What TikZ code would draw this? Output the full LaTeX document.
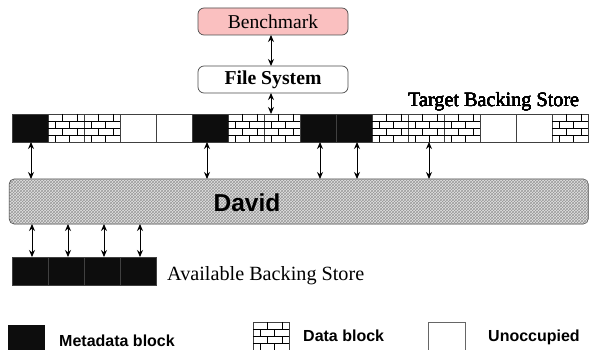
\documentclass[tikz,border=0pt]{standalone}
\usepackage{fontspec}
\setmainfont{Liberation Serif}
\setsansfont{Liberation Sans}
\usetikzlibrary{patterns,arrows.meta}
\definecolor{bmpink}{RGB}{250,192,192}
\newcommand\mybricks[1]{%
  \begin{scope}[shift={(#1.north west)}]
    \draw[brk] (0,7)--(36,7) (0,14)--(36,14) (0,21)--(36,21)
      (14.5,0)--(14.5,7) (29,0)--(29,7)
      (7,7)--(7,14) (21.5,7)--(21.5,14)
      (14.5,14)--(14.5,21) (29,14)--(29,21)
      (7,21)--(7,28) (21.5,21)--(21.5,28);
  \end{scope}}
\begin{document}
\begin{tikzpicture}[x=1pt,y=-1pt,
  blk/.style={draw=black!75, line width=0.7pt, minimum width=36pt, minimum height=28pt,
    inner sep=0pt, outer sep=0pt, anchor=north west},
  blkM/.style={blk, fill=black!95},
  blkD/.style={blk, fill=white},
  blkU/.style={blk, fill=white},
  brk/.style={line width=0.6pt, black},
  topbox/.style={draw=black!70, line width=0.7pt, rounded corners=6pt, minimum width=150pt,
    minimum height=27pt, inner sep=0pt, outer sep=0pt, font=\fontsize{19.6}{21}\selectfont},
  arr/.style={{Stealth[length=7pt,width=6pt]}-{Stealth[length=7pt,width=6pt]}, line width=1pt},
  legtxt/.style={font=\sffamily\bfseries\fontsize{16}{18}\selectfont, anchor=base west, inner sep=0pt},
  sertxt/.style={font=\fontsize{20.2}{22}\selectfont, inner sep=0pt}
]
\useasboundingbox (0,0) rectangle (589,350);

% top boxes
\node[topbox, fill=bmpink] (bm) at (273,21.5) {Benchmark};
\node[topbox, fill=white, font=\fontsize{19.7}{21}\selectfont\bfseries] (fs) at (273,79.5) {File System};

% target backing store strip
\foreach \t [count=\i] in {M,D,D,U,U,M,D,D,M,M,D,D,D,U,U,D}
  \node[blk\t] (t\i) at ({12+36*(\i-1)},114) {};
\foreach \i in {2,3,7,8,11,12,13,16} \mybricks{t\i}
\node[sertxt, anchor=base west] (tlbl) at (408,106.8) {Target Backing Store};

% David layer
\node[draw=black!75, line width=0.7pt, rounded corners=5pt, fill=gray!22,
  postaction={pattern=crosshatch, pattern color=gray!80},
  minimum width=579pt, minimum height=45pt, inner sep=0pt, outer sep=0pt,
  anchor=north west] (david) at (9.2,179) {};
\node[font=\sffamily\bfseries\fontsize{24.5}{26}\selectfont, anchor=base, inner sep=0pt] (dlbl) at (247,211) {David};

% available backing store
\foreach \i in {1,...,4}
  \node[blkM] (a\i) at ({12+36*(\i-1)},257) {};
\node[sertxt, anchor=base west] (albl) at (167,280) {Available Backing Store};

% arrows
\draw[arr] ([xshift=-2pt]bm.south) -- ([xshift=-2pt]fs.north);
\draw[arr] ([xshift=-2pt]fs.south) -- ([xshift=-2pt]fs.south |- t8.north);
\foreach \n/\dx in {1/1,6/-3,9/2,10/3,12/3}
  \draw[arr] ([xshift=\dx pt]t\n.south) -- ([xshift=\dx pt]t\n.south |- david.north);
\foreach \n in {1,...,4}
  \draw[arr] ([xshift=2pt]david.south -| a\n.north) -- ([xshift=2pt]a\n.north);

% legend
\node[fill=black!95, minimum width=37pt, minimum height=25pt, inner sep=0pt, outer sep=0pt,
  anchor=north west] (lm) at (8,325) {};
\node[legtxt] (lmt) at (59,346.5) {Metadata block};
\node[blkD, draw=black!75] (ld) at (253,322) {};
\mybricks{ld}
\node[legtxt] (ldt) at (303,341.5) {Data block};
\node[blkU, draw=black!60, minimum width=37pt] (lu) at (428.5,322) {};
\node[legtxt] (lut) at (488,341.5) {Unoccupied};
\end{tikzpicture}
\end{document}
